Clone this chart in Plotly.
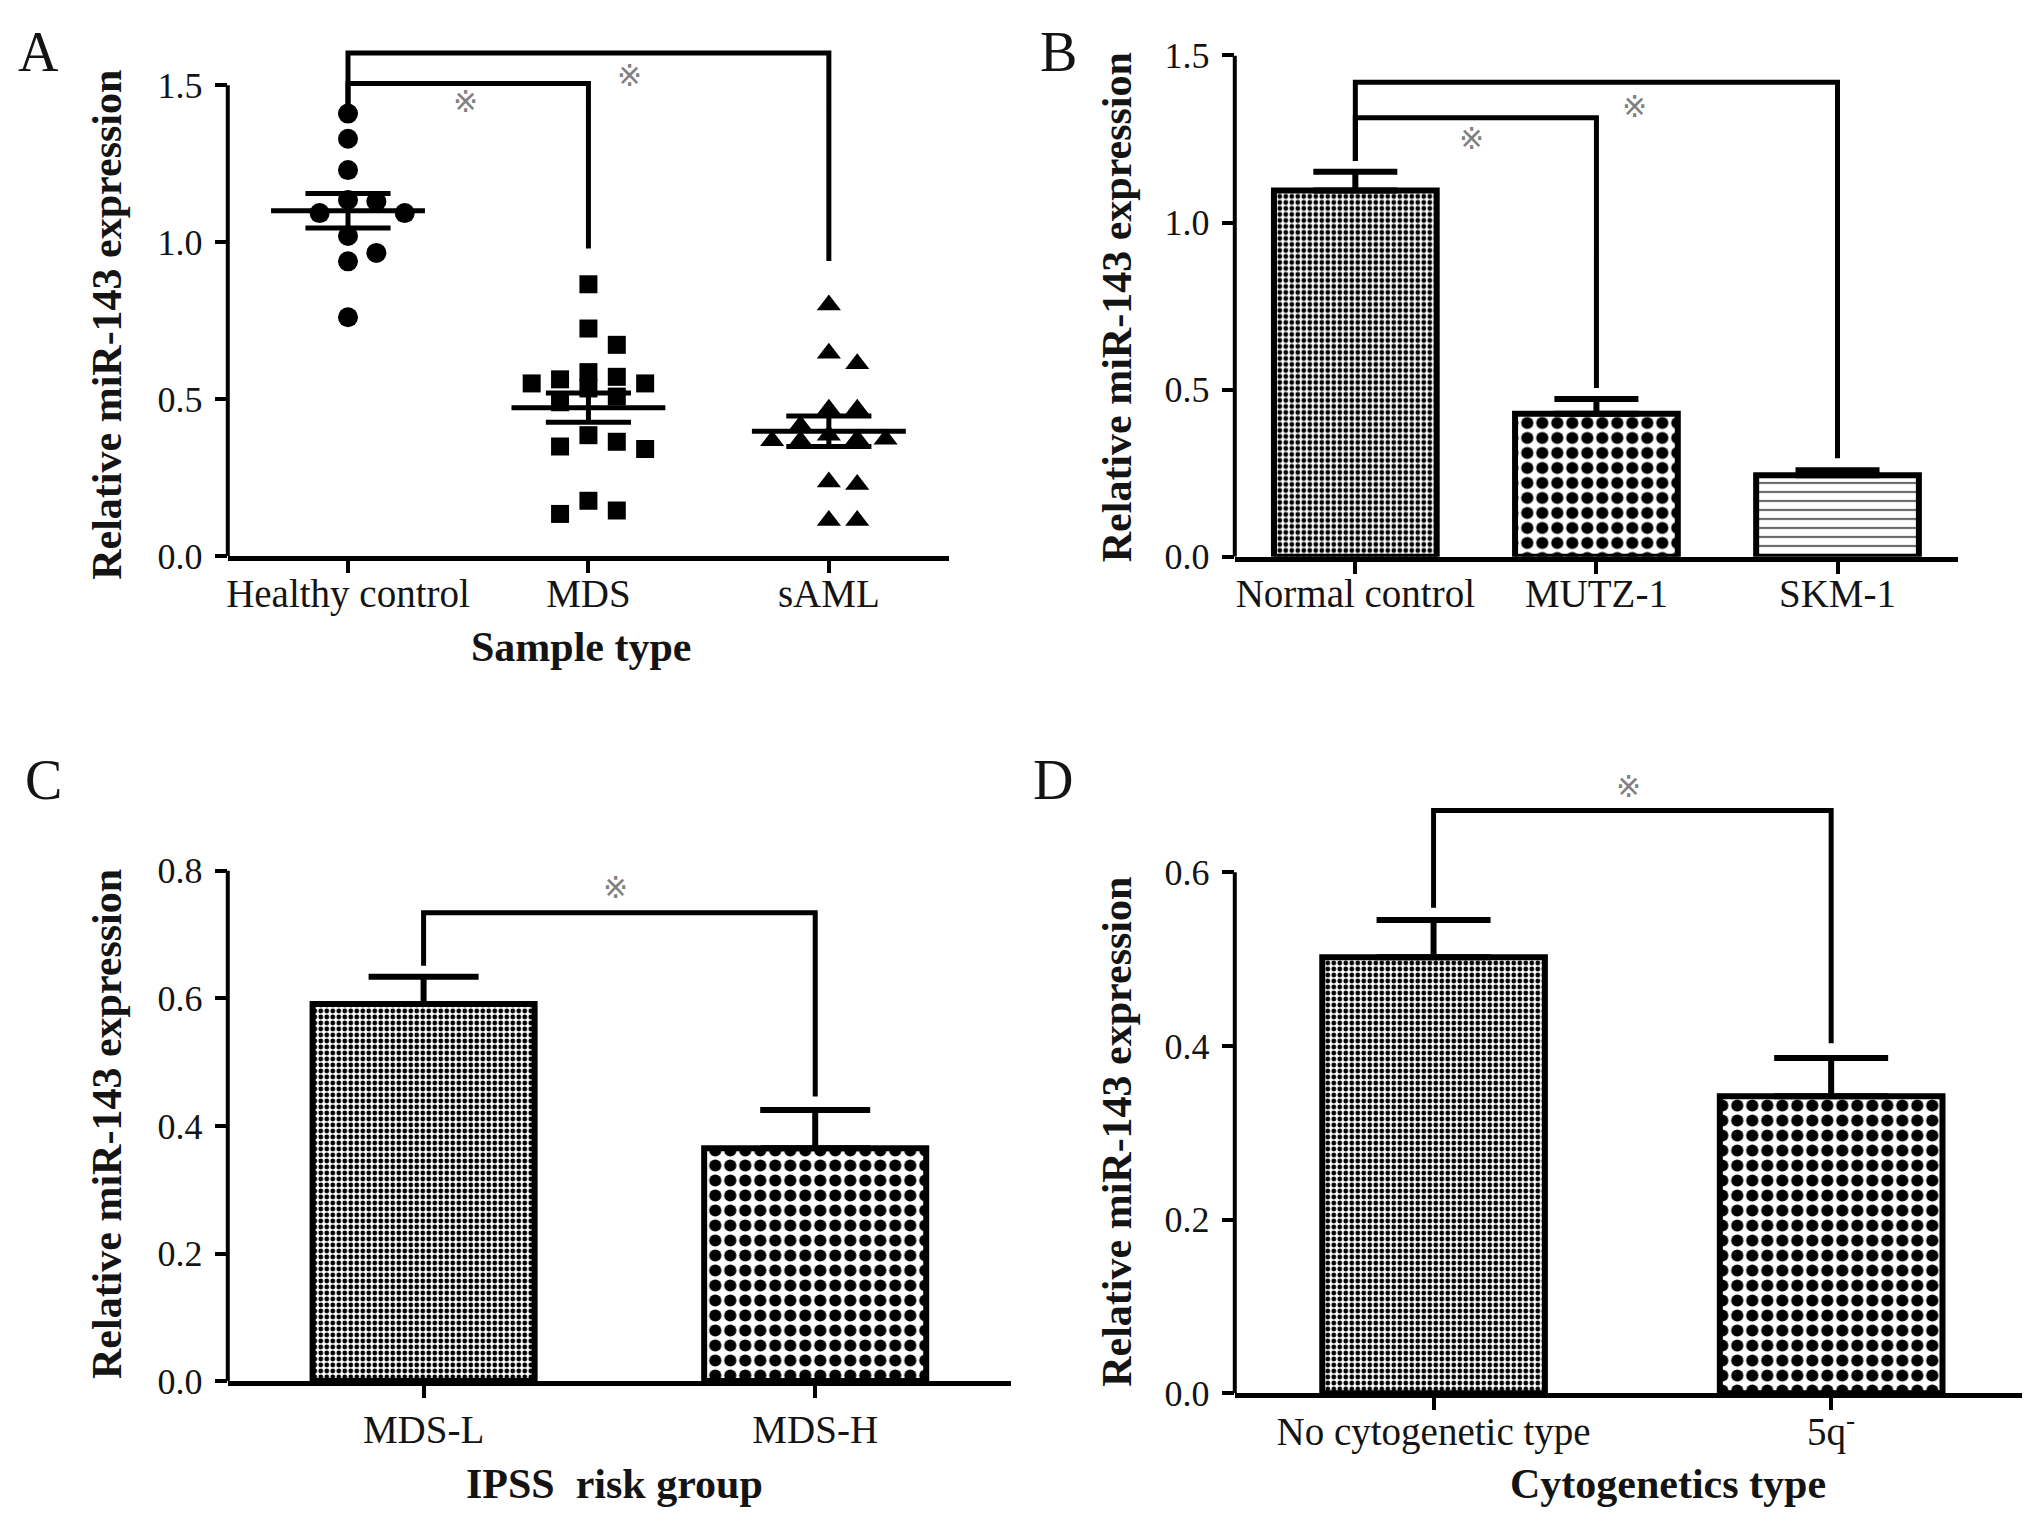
import numpy as np
import plotly.graph_objects as go
from plotly.subplots import make_subplots

# ---- data ----
# A: individual samples
cat_a = ["Healthy control", "MDS", "sAML"]
healthy = [1.41, 1.33, 1.23, 1.135, 1.13, 1.093, 1.093, 1.02, 0.966, 0.939, 0.761]
mds = [0.866, 0.725, 0.673, 0.586, 0.571, 0.563, 0.55, 0.55, 0.534, 0.508,
       0.49, 0.385, 0.364, 0.349, 0.341, 0.176, 0.145, 0.134]
saml = [0.80, 0.646, 0.613, 0.468, 0.468, 0.416, 0.385, 0.372, 0.372, 0.367,
        0.367, 0.236, 0.228, 0.113, 0.113]

# B: cell lines (mean, SEM)
cat_b = ["Normal control", "MUTZ-1", "SKM-1"]
mean_b = [1.096, 0.428, 0.244]
sem_b = [0.056, 0.044, 0.015]

# C: IPSS risk group
cat_c = ["MDS-L", "MDS-H"]
mean_c = [0.591, 0.365]
sem_c = [0.043, 0.060]

# D: cytogenetics
cat_d = ["No cytogenetic type", "5q<sup>-</sup>"]
mean_d = [0.502, 0.342]
sem_d = [0.043, 0.044]

# significance brackets: (left, right), bar height, foot heights
sig_a = dict(pairs=[(0, 1), (0, 2)], top=[1.506, 1.603], left_foot=1.42, right_foot=[0.98, 0.94])
sig_b = dict(pairs=[(0, 1), (0, 2)], top=[1.314, 1.42], left_foot=1.184, right_foot=[0.505, 0.295])
sig_c = dict(pairs=[(0, 1)], top=[0.734], left_foot=0.651, right_foot=[0.446])
sig_d = dict(pairs=[(0, 1)], top=[0.671], left_foot=0.559, right_foot=[0.403])

star_a = [(0.49, 1.45), (1.17, 1.532)]
star_b = [(0.48, 1.253), (1.157, 1.348)]
star_c = [(0.49, 0.774)]
star_d = [(0.49, 0.699)]

# page body has an 8px margin, so the figure is a bit smaller than the window
PAD = 8
W, H = 2031 - 2 * PAD, 1524 - 2 * PAD
FONT = "Liberation Serif"
INK = "#141414"


def fx(p):
    return min(1.0, max(0.0, (p - PAD) / W))


def fy(p):
    return min(1.0, max(0.0, 1 - (p - PAD) / H))


def swarm(vals, step, gap):
    # simple beeswarm: put each point in the first column where it does not collide
    placed = []
    offs = []
    for v in vals:
        best, best_d = 0, -1
        for c in [0, 1, -1, 2, -2]:
            d = min([abs(v - pv) for pv, pc in placed if pc == c] or [9])
            if d >= gap:
                best = c
                break
            if d > best_d:
                best, best_d = c, d
        placed.append((v, best))
        offs.append(best * step)
    return offs


fig = make_subplots(rows=2, cols=2)

# ---- panel A scatter ----
symbols = ["circle", "square", "triangle-up"]
sizes = [20, 18, 21]
for i, vals in enumerate([healthy, mds, saml]):
    offs = swarm(vals, 0.118, 0.062)
    fig.add_trace(go.Scatter(x=[i + o for o in offs], y=vals, mode="markers",
                             marker=dict(symbol=symbols[i], size=sizes[i], color="black",
                                         line=dict(width=0))), row=1, col=1)
    m = np.mean(vals)
    s = np.std(vals, ddof=1) / np.sqrt(len(vals))
    fig.add_trace(go.Scatter(
        x=[i - 0.32, i + 0.32, None, i - 0.177, i + 0.177, None, i - 0.177, i + 0.177, None, i, i],
        y=[m, m, None, m + s, m + s, None, m - s, m - s, None, m - s, m + s],
        mode="lines", line=dict(color="black", width=5)), row=1, col=1)

# ---- bar panels ----
def bars(mean, sem, width, shapes, psize, solid, cap, row, col):
    n = len(mean)
    fig.add_trace(go.Bar(
        x=list(range(n)), y=mean, width=width,
        marker=dict(color="white", line=dict(color="black", width=6),
                    pattern=dict(shape=shapes, size=psize, solidity=solid,
                                 fgcolor="black", bgcolor="white", fillmode="replace")),
        error_y=dict(type="data", array=sem, arrayminus=[0] * n, symmetric=False,
                     thickness=6, width=cap, color="black")), row=row, col=col)


bars(mean_b, sem_b, 0.675, [".", ".", "-"], [6, 15, 9], [0.5, 0.52, 0.14], 42, 1, 2)
bars(mean_c, sem_c, 0.567, [".", "."], [6, 15], [0.5, 0.52], 55, 2, 1)
bars(mean_d, sem_d, 0.56, [".", "."], [6, 15], [0.5, 0.52], 57, 2, 2)

# ---- brackets ----
for sig, (r, c) in [(sig_a, (1, 1)), (sig_b, (1, 2)), (sig_c, (2, 1)), (sig_d, (2, 2))]:
    for (l, rr), top, foot in zip(sig["pairs"], sig["top"], sig["right_foot"]):
        fig.add_trace(go.Scatter(x=[l, l, rr, rr], y=[sig["left_foot"], top, top, foot],
                                 mode="lines", line=dict(color="black", width=5)),
                      row=r, col=c)

# ---- axes geometry (pixel layout of the original) ----
panels = [
    # suffix, x left, x right, y of zero, px per unit, ymax, top tick, dtick, cats, xrange, label standoff
    ("", 226, 948, 551.4, 322.3, 1.66, 1.5, 0.5, cat_a, [-0.5, 2.5], -13),
    ("2", 1234, 1958, 552.2, 343.3, 1.5, 1.5, 0.5, cat_b, [-0.5, 2.5], -14),
    ("3", 226, 1010, 1399.0, 655.3, 0.82, 0.8, 0.2, cat_c, [-0.5, 1.5], -2),
    ("4", 1234, 2022, 1411.5, 892.0, 0.72, 0.6, 0.2, cat_d, [-0.5, 1.48], -12),
]
for suf, xl, xr, y0, ppu, ymax, ttop, dt, cats, xrng, stand in panels:
    ytop = y0 - ymax * ppu
    fig.layout["xaxis" + suf].update(
        domain=[fx(xl), fx(xr)], range=xrng, showgrid=False, zeroline=False,
        showline=True, linewidth=5, linecolor="black",
        ticks="outside", ticklen=12, tickwidth=4, tickcolor="black",
        tickvals=list(range(len(cats))), ticktext=cats, ticklabelstandoff=stand,
        tickfont=dict(family=FONT, size=39, color=INK))
    fig.layout["yaxis" + suf].update(
        domain=[fy(y0), fy(ytop)], range=[0, ymax], showgrid=False, zeroline=False,
        showline=False, ticks="outside", ticklen=12, tickwidth=4, tickcolor="black",
        tick0=0, dtick=dt, tickformat=".1f", ticklabelstandoff=5,
        tickfont=dict(family=FONT, size=36, color=INK))
    fig.add_shape(type="line", xref="x" + suf + " domain", yref="y" + suf,
                  x0=0, x1=0, y0=0, y1=ttop, line=dict(color="black", width=4))

# ---- text ----
ann = []


def label(text, x, y, size, **kw):
    ann.append(dict(text=text, x=fx(x), y=fy(y), xref="paper", yref="paper",
                    xanchor="center", yanchor="middle", showarrow=False,
                    font=dict(family=FONT, size=size, color=INK), **kw))


for letter, x, y in [("A", 37, 34), ("B", 1058, 34), ("C", 42, 782), ("D", 1052, 782)]:
    label(letter, x, y, 56)
for x, y in [(105, 314), (1116, 296), (105, 1135), (1116, 1143)]:
    label("<b>Relative miR-143 expression</b>", x, y, 42, textangle=-90)
for txt, x, y in [("Sample type", 580, 645), ("IPSS\u00a0 risk group", 613, 1505),
                  ("Cytogenetics type", 1668, 1505)]:
    label("<b>" + txt + "</b>", x, y, 42)
for stars, suf in [(star_a, ""), (star_b, "2"), (star_c, "3"), (star_d, "4")]:
    for sx, sy in stars:
        ann.append(dict(text="\u203b", x=sx, y=sy, xref="x" + suf, yref="y" + suf,
                        xanchor="center", yanchor="middle", showarrow=False,
                        font=dict(family="DejaVu Sans", size=30, color="#808080")))

fig.update_layout(width=W, height=H, margin=dict(l=0, r=0, t=0, b=0),
                  plot_bgcolor="white", paper_bgcolor="white", showlegend=False,
                  annotations=ann, font=dict(family=FONT, color=INK))

fig.write_html("out.html")
